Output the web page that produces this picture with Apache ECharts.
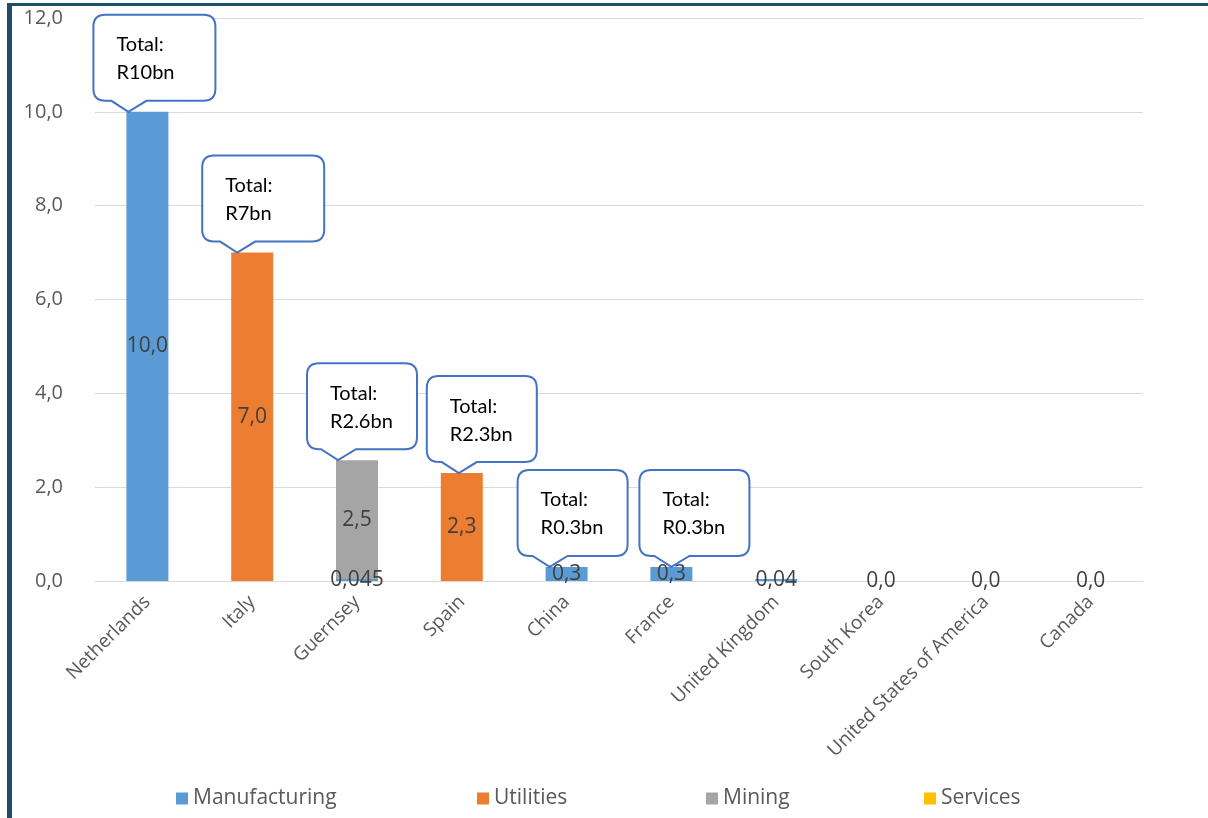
<!DOCTYPE html>
<html>
<head>
<meta charset="utf-8">
<script src="https://cdn.jsdelivr.net/npm/echarts@6/dist/echarts.min.js"></script>
<style>html,body{margin:0;padding:0;background:#fff;}#c{width:1208px;height:818px;}</style>
</head>
<body>
<div id="c"></div>
<script>
const categories = ['Netherlands','Italy','Guernsey','Spain','China','France','United Kingdom','South Korea','United States of America','Canada'];
const manufacturing = [10.0, null, 0.045, null, 0.3, 0.3, 0.04, 0, 0, 0];
const utilities = [null, 7.0, null, 2.3, null, null, null, null, null, null];
const mining = [null, null, 2.53, null, null, null, null, null, null, null];
const services = [null, null, null, null, null, null, null, null, null, null];
const totalLabels = ['R10bn','R7bn','R2.6bn','R2.3bn','R0.3bn','R0.3bn', null, null, null, null];
const yTicks = [0, 2, 4, 6, 8, 10, 12];

// callout layout (styling only)
const calloutTipDx = [-19, -15, -19, -3, -17, 0];
const calloutWidth = [122, 122, 110, 110, 110, 110];
const calloutLeft = [35, 35, 31, 32, 32, 32];

const totals = categories.map((c, i) => [manufacturing, utilities, mining, services].reduce((s, a) => s + (a[i] || 0), 0));
const calloutData = [];
totalLabels.forEach((t, i) => { if (t) calloutData.push([i, totals[i]]); });
const calloutText = totalLabels.filter(t => t);

function fmtVal(v) {
  if (v === null || v === undefined) return '';
  let s = (Math.abs(v) >= 0.1 || v === 0) ? v.toFixed(1) : String(v);
  return s.replace('.', ',');
}

const FONT = 'Open Sans';
const labelCfg = {
  show: true, position: 'inside', color: '#404040', fontSize: 21, fontFamily: FONT,
  formatter: p => fmtVal(p.value)
};

function bar(name, data, color) {
  return {
    name, type: 'bar', stack: 'total', data, barWidth: 42,
    itemStyle: { color }, label: labelCfg, emphasis: { disabled: true }
  };
}

const chart = echarts.init(document.getElementById('c'));
const legendBase = { icon: 'rect', itemWidth: 12, itemHeight: 12, itemGap: 6, top: 788, padding: 0,
  textStyle: { fontSize: 21, color: '#595959', fontFamily: FONT } };

chart.setOption({
  animation: false,
  grid: { left: 95, right: 65, top: 18, bottom: 237 },
  xAxis: {
    type: 'category', data: categories,
    axisLine: { lineStyle: { color: '#D9D9D9', width: 1 } },
    axisTick: { show: false },
    axisLabel: { rotate: 45, color: '#595959', fontSize: 19, fontFamily: FONT, interval: 0, margin: 18 }
  },
  yAxis: {
    type: 'value', min: yTicks[0], max: yTicks[yTicks.length - 1], interval: 2,
    axisLine: { show: false }, axisTick: { show: false },
    splitLine: { lineStyle: { color: '#D9D9D9', width: 1 } },
    axisLabel: { color: '#595959', fontSize: 20, fontFamily: FONT, margin: 32, formatter: v => fmtVal(v) }
  },
  legend: [
    Object.assign({ data: ['Manufacturing'], left: 176 }, legendBase),
    Object.assign({ data: ['Utilities'], left: 477 }, legendBase),
    Object.assign({ data: ['Mining'], left: 706 }, legendBase),
    Object.assign({ data: ['Services'], left: 924 }, legendBase)
  ],
  series: [
    bar('Manufacturing', manufacturing, '#5B9BD5'),
    bar('Utilities', utilities, '#ED7D31'),
    bar('Mining', mining, '#A5A5A5'),
    bar('Services', services, '#FFC000'),
    {
      type: 'custom', name: 'callouts', data: calloutData, z: 10, clip: false,
      renderItem: function (params, api) {
        const i = params.dataIndex;
        const p = api.coord([api.value(0), api.value(1)]);
        const tx = p[0] + calloutTipDx[i], ty = p[1];
        const bb = ty - 11, bt = bb - 86;
        const bl = tx - calloutLeft[i], br = bl + calloutWidth[i];
        const r = 12;
        const d = [
          'M', bl + r, bt, 'L', br - r, bt, 'Q', br, bt, br, bt + r,
          'L', br, bb - r, 'Q', br, bb, br - r, bb,
          'L', tx + 18, bb, 'L', tx, ty, 'L', tx - 17, bb,
          'L', bl + r, bb, 'Q', bl, bb, bl, bb - r,
          'L', bl, bt + r, 'Q', bl, bt, bl + r, bt, 'Z'
        ].join(' ');
        return {
          type: 'group',
          children: [
            { type: 'path', shape: { pathData: d }, style: { fill: '#fff', stroke: '#4472C4', lineWidth: 2 } },
            { type: 'text', style: { x: bl + 23, y: bt + 30, text: 'Total:', fill: '#000', font: '20px Lato', verticalAlign: 'middle' } },
            { type: 'text', style: { x: bl + 23, y: bt + 58, text: calloutText[i], fill: '#000', font: '20px Lato', verticalAlign: 'middle' } }
          ]
        };
      }
    }
  ],
  graphic: [
    { type: 'rect', shape: { x: 7, y: 3, width: 1201, height: 3 }, style: { fill: '#1F4E6B' }, z: 100 },
    { type: 'rect', shape: { x: 7, y: 3, width: 5, height: 815 }, style: { fill: '#1F4E6B' }, z: 100 }
  ]
});
</script>
</body>
</html>
